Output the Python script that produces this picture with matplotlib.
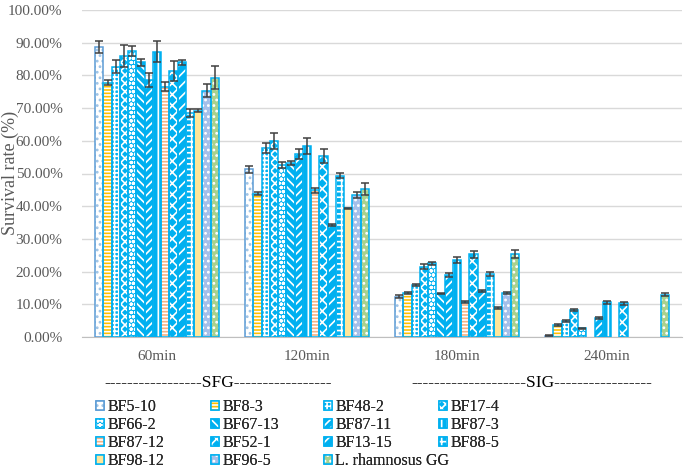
import numpy as np
import matplotlib
matplotlib.use("Agg")
import matplotlib.pyplot as plt
from matplotlib.ticker import FuncFormatter, MultipleLocator

nan = np.nan

times = ["60min", "120min", "180min", "240min"]
strains = ["BF5-10", "BF8-3", "BF48-2", "BF17-4", "BF66-2", "BF67-13", "BF87-11", "BF87-3",
           "BF87-12", "BF52-1", "BF13-15", "BF88-5", "BF98-12", "BF96-5", "L. rhamnosus GG"]

# survival rate (%) per strain, one list per time point
t60 = [88.6, 77.8, 82.7, 86.0, 87.5, 84.0, 78.6, 87.3, 76.6, 81.3, 84.0, 68.5, 69.2, 75.3, 79.3]
e60 = [1.8, 0.8, 2.0, 3.4, 1.5, 1.0, 2.2, 3.3, 1.3, 3.0, 0.8, 1.2, 0.5, 2.0, 3.6]
t120 = [51.3, 43.8, 57.8, 60.0, 52.6, 53.2, 56.0, 58.5, 44.9, 55.3, 34.2, 49.3, 39.3, 43.3, 45.3]
e120 = [1.0, 0.4, 1.5, 2.4, 0.8, 0.7, 1.6, 2.4, 0.8, 2.2, 0.3, 0.8, 0.3, 0.9, 1.8]
t180 = [12.3, 13.6, 16.0, 21.5, 22.5, 13.3, 19.0, 23.5, 10.7, 25.3, 14.0, 19.3, 8.9, 13.4, 25.4]
e180 = [0.4, 0.3, 0.3, 0.8, 0.4, 0.3, 0.5, 1.0, 0.3, 1.0, 0.3, 0.5, 0.3, 0.3, 1.2]
t240 = [0.4, 3.6, 4.9, 8.3, 2.6, nan, 5.8, 10.6, nan, 10.3, nan, nan, nan, nan, 12.9]
e240 = [0.1, 0.3, 0.3, 0.4, 0.2, nan, 0.3, 0.4, nan, 0.4, nan, nan, nan, nan, 0.5]

BLUE = "#00B0F0"
# (face, hatch colour, hatch, outline)
styles = [
    ("white", "#9DC3E6", "...", "#5B9BD5"),
    ("#FFC000", "white", "-----", BLUE),
    (BLUE, "white", "++++", BLUE),
    (BLUE, "white", "xxxx", BLUE),
    (BLUE, "white", "oooo", BLUE),
    (BLUE, "white", "\\\\\\\\", BLUE),
    (BLUE, "white", "////", BLUE),
    (BLUE, "white", "|||", BLUE),
    ("white", "#F4B183", "-----", BLUE),
    (BLUE, "white", "xxx", BLUE),
    (BLUE, "white", "///", BLUE),
    (BLUE, "white", "+++", BLUE),
    ("#FFE699", "#70AD47", "|", BLUE),
    ("#A4BFEA", "white", "...", BLUE),
    ("#A9D18E", "white", "...", BLUE),
]

plt.rcParams['font.family'] = ['Liberation Serif', 'DejaVu Serif']
plt.rcParams['hatch.linewidth'] = 1.2

fig = plt.figure(figsize=(6.85, 4.71), dpi=100)
ax = fig.add_axes([82 / 685, 1 - 337 / 471, 600 / 685, 327 / 471])

x = np.arange(len(times))
w = 0.055
handles = []
for i, name in enumerate(strains):
    vals = np.array([t60[i], t120[i], t180[i], t240[i]])
    errs = np.array([e60[i], e120[i], e180[i], e240[i]])
    face, hc, h, oc = styles[i]
    pos = x + (i - 7) * w
    b1 = ax.bar(pos, vals, w, color=face, edgecolor=hc, hatch=h, linewidth=0, zorder=2)
    b2 = ax.bar(pos, vals, w, fill=False, edgecolor=oc, linewidth=1.1, zorder=3)
    ax.errorbar(pos, vals, yerr=errs, fmt='none', ecolor='#404040', elinewidth=1.1,
                capsize=3, capthick=1.1, zorder=4)
    handles.append((b1[0], b2[0]))

ax.set_xlim(-0.5, 3.5)
ax.set_ylim(0, 100)
ax.yaxis.set_major_locator(MultipleLocator(10))
ax.yaxis.set_major_formatter(FuncFormatter(lambda v, p: f"{v:.2f}%"))
ax.set_xticks(x)
ax.set_xticklabels(times)
ax.tick_params(axis='both', length=0, labelsize=11, labelcolor='#595959')
ax.tick_params(axis='x', pad=9)
ax.tick_params(axis='y', pad=14)
ax.grid(axis='y', color='#D9D9D9', linewidth=1, zorder=0)
ax.set_axisbelow(True)
for s in ['top', 'right', 'left']:
    ax.spines[s].set_visible(False)
ax.spines['bottom'].set_color('#BFBFBF')

fig.text(10 / 685, 1 - 173 / 471, "Survival rate (%)", rotation=90, ha='center', va='center',
         fontsize=13, color='#595959')

fig.text(218 / 685, 1 - 383 / 471, "-----------------SFG-----------------", ha='center', va='center',
         fontsize=12.5, color='black')
fig.text(532 / 685, 1 - 383 / 471, "--------------------SIG-----------------", ha='center', va='center',
         fontsize=12.5, color='black')

col_x = [96, 211, 324, 439]
for c in range(4):
    idx = list(range(c, len(strains), 4))
    leg = fig.legend([handles[k] for k in idx], [strains[k] for k in idx],
                     loc='upper left', bbox_to_anchor=(col_x[c] / 685, 1 - 399 / 471),
                     frameon=False, fontsize=11.5, borderpad=0, borderaxespad=0,
                     handlelength=0.5, handleheight=0.5, handletextpad=0.2, labelspacing=0.12)
    for t in leg.get_texts():
        t.set_color('#262626')
    fig.add_artist(leg)

fig.savefig("out.png", dpi=100)
